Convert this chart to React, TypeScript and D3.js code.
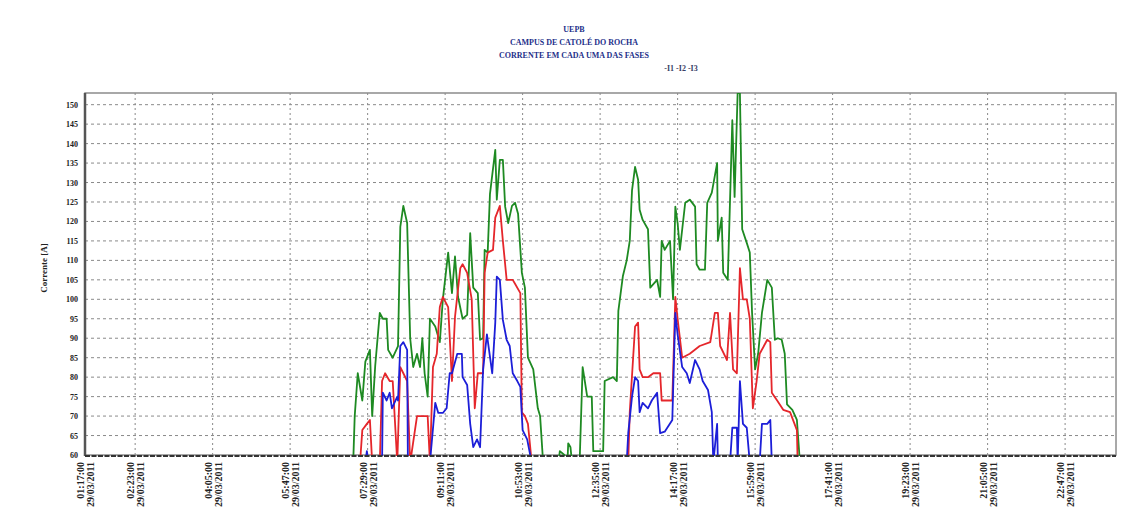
import React from "react";
import * as d3 from "d3";

// Current per phase, 29/03/2011. Time = minutes after midnight, value = amperes.
const DATE_LABEL = "29/03/2011";
const TITLE_LINES = ["UEPB", "CAMPUS DE CATOLÉ DO ROCHA", "CORRENTE EM CADA UMA DAS FASES"];
const LEGEND_TEXT = "-I1 -I2 -I3";
const Y_TITLE = "Corrente [A]";
const TIME_LABELS = [
  "01:17:00", "02:23:00", "04:05:00", "05:47:00", "07:29:00", "09:11:00", "10:53:00",
  "12:35:00", "14:17:00", "15:59:00", "17:41:00", "19:23:00", "21:05:00", "22:47:00",
];
const Y_TICKS = [60, 65, 70, 75, 80, 85, 90, 95, 100, 105, 110, 115, 120, 125, 130, 135, 140, 145, 150];
const X_DOMAIN = [77, 1434];
const Y_DOMAIN = [60, 153];

const GREEN: [number, number][] = [
  [430, 58], [432, 70], [436, 81], [442, 74], [446, 84], [452, 87], [455, 70], [459, 83], [465, 96.5],
  [469, 95], [474, 95], [476, 87], [482, 85], [489, 88], [492, 118.6], [496, 124], [501, 119.6], [505, 90],
  [509, 82.6], [514, 86], [518, 82.6], [521, 90], [524, 81], [528, 75], [531, 95], [538, 93], [544, 89],
  [548, 100], [555, 112], [560, 101.6], [564, 111], [568, 100.6], [574, 95], [580, 96], [584, 117], [588, 103],
  [594, 101.6], [597, 89.6], [601, 90], [603, 112.7], [607, 112], [610, 127], [617, 138.4], [619, 125.6],
  [623, 135.8], [627, 135.8], [630, 123.8], [634, 119.6], [639, 124], [643, 124.8], [647, 122], [652, 106.8],
  [656, 103], [660, 85], [667, 82], [673, 72], [676, 70], [680, 58], [700, 58], [702, 61], [708, 60],
  [712, 58], [713, 63], [716, 62], [718, 58], [728, 58], [732, 82.6], [738, 75], [744, 75], [746, 61],
  [759, 61], [761, 79], [772, 80], [777, 79], [779, 97], [785, 106], [790, 110], [794, 115], [797, 128],
  [801, 134], [805, 130.7], [807, 123], [811, 120.4], [818, 118], [821, 103], [830, 105], [834, 100.6],
  [836, 115], [840, 112.7], [847, 115], [851, 100], [854, 123.8], [857, 119.6], [860, 112.7], [867, 124.8],
  [873, 125.6], [880, 123.8], [882, 109], [886, 107.6], [893, 107.6], [896, 124.8], [902, 127.4], [909, 135],
  [910, 115], [915, 121], [917, 106.8], [923, 105], [929, 146], [932, 126.3], [936, 153], [939, 153],
  [942, 118], [948, 114.5], [952, 112], [955, 96.5], [959, 82], [963, 86], [968, 96.5], [975, 105],
  [981, 103], [985, 89.6], [989, 90], [994, 89.6], [998, 86], [1001, 73], [1008, 71.6], [1014, 69], [1018, 58],
];

const RED: [number, number][] = [
  [439, 58], [442, 66.4], [448, 68], [452, 69], [455, 58], [465, 58], [468, 79], [472, 81], [478, 79],
  [482, 79], [488, 58], [492, 82.6], [496, 81], [501, 79], [505, 58], [514, 70], [528, 70], [531, 58],
  [535, 82.6], [540, 86], [544, 98], [548, 100.6], [555, 98], [560, 79], [564, 95.5], [571, 108], [574, 109],
  [580, 106.8], [586, 100], [590, 72], [594, 81], [601, 81], [603, 106.8], [607, 112], [614, 112.7],
  [617, 121], [623, 124], [627, 115], [632, 105], [640, 105], [643, 104], [650, 101.6], [652, 71], [656, 70],
  [660, 68], [665, 58], [792, 58], [794, 71], [801, 93], [805, 94], [807, 82], [811, 80], [818, 80],
  [825, 81], [834, 81], [836, 74], [850, 74], [854, 100.6], [857, 95], [863, 85], [873, 86], [886, 88],
  [900, 89], [906, 96.5], [910, 96.5], [913, 88], [922, 84.4], [926, 96.5], [930, 82], [935, 81], [939, 108],
  [943, 100], [948, 100], [952, 95], [956, 72], [961, 79], [965, 86], [975, 89.6], [979, 89], [981, 76],
  [988, 74], [996, 71.6], [1005, 71], [1014, 66.4], [1015, 58],
];

const BLUE: [number, number][] = [
  [446, 58], [448, 61], [450, 58], [468, 58], [469, 76], [474, 74], [478, 76], [481, 72], [488, 75],
  [489, 74], [492, 88], [496, 89], [501, 87], [502, 58], [531, 58], [538, 73.4], [542, 70.8], [548, 70.8],
  [553, 72], [557, 81], [560, 81], [567, 86], [573, 86], [574, 80], [580, 78], [584, 68], [588, 62],
  [593, 64], [597, 62], [601, 82], [606, 91], [613, 81], [617, 94], [619, 105.8], [623, 105], [627, 94.7],
  [632, 89.6], [636, 88], [640, 81], [646, 79], [650, 77.5], [653, 66.4], [659, 64], [665, 58],
  [790, 58], [792, 65.6], [797, 75], [801, 80], [805, 79], [807, 71], [811, 73.4], [818, 72], [823, 74],
  [830, 76], [834, 65.6], [840, 66], [850, 69], [854, 96.5], [857, 91], [863, 82.6], [869, 81], [873, 78.5],
  [880, 84.4], [886, 82], [890, 79], [897, 76.7], [902, 71], [904, 58], [909, 68], [910, 58], [926, 58],
  [929, 67], [935, 67], [936, 58], [939, 79], [943, 68], [948, 67], [952, 58], [965, 58], [968, 68],
  [975, 68], [979, 69], [981, 58],
];

const SERIES = [
  { name: "green", data: GREEN, color: "#1e8a22" },
  { name: "red", data: RED, color: "#e5262b" },
  { name: "blue", data: BLUE, color: "#1c1ed8" },
];

const toMin = (s: string) => {
  const [h, m] = s.split(":").map(Number);
  return h * 60 + m;
};

export default function App() {
  const W = 1126;
  const H = 510;
  const left = 85, right = 1116, top = 93, bottom = 455;
  const x = d3.scaleLinear().domain(X_DOMAIN).range([left, right]);
  const y = d3.scaleLinear().domain(Y_DOMAIN).range([bottom, top]);
  const line = d3
    .line<[number, number]>()
    .x((d) => x(d[0]))
    .y((d) => y(d[1]));
  const font = "'Liberation Serif', 'Times New Roman', serif";
  const titleColor = "#23308a";

  return (
    <svg
      width={W}
      height={H}
      style={{ position: "absolute", left: 0, top: 0, background: "#fff" }}
      fontFamily={font}
    >
      <defs>
        <clipPath id="plot">
          <rect x={left} y={top} width={right - left} height={bottom - top + 1} />
        </clipPath>
      </defs>
      <rect x={0} y={0} width={W} height={H} fill="#fff" />

      {/* title */}
      {TITLE_LINES.map((t, i) => (
        <text
          key={t}
          x={574}
          y={32 + i * 13}
          textAnchor="middle"
          fontSize={8}
          fontWeight="bold"
          fill={titleColor}
        >
          {t}
        </text>
      ))}
      <text x={681} y={71} textAnchor="middle" fontSize={8} fontWeight="bold" fill="#3a3f66">
        {LEGEND_TEXT}
      </text>

      {/* horizontal grid */}
      {Y_TICKS.filter((v) => v > Y_DOMAIN[0]).map((v) => (
        <line
          key={"h" + v}
          x1={left}
          x2={right}
          y1={y(v)}
          y2={y(v)}
          stroke="#8a8a8a"
          strokeWidth={1}
          strokeDasharray="3,3"
        />
      ))}
      {/* vertical grid */}
      {TIME_LABELS.slice(1).map((t) => (
        <line
          key={"v" + t}
          x1={x(toMin(t))}
          x2={x(toMin(t))}
          y1={top}
          y2={bottom}
          stroke="#8a8a8a"
          strokeWidth={1}
          strokeDasharray="2,3"
        />
      ))}

      {/* border */}
      <rect x={left} y={top} width={right - left} height={bottom - top} fill="none" stroke="#8c8c8c" strokeWidth={1.5} />

      {/* series */}
      <g clipPath="url(#plot)">
        {SERIES.map((s) => (
          <path key={s.name} d={line(s.data) || ""} fill="none" stroke={s.color} strokeWidth={1.8} strokeLinejoin="round" />
        ))}
      </g>

      {/* axes */}
      <line x1={left} x2={left} y1={top} y2={bottom + 1} stroke="#555" strokeWidth={2.5} />
      <line x1={left} x2={right} y1={bottom + 1} y2={bottom + 1} stroke="#333" strokeWidth={2} strokeDasharray="5,1.5" />

      {/* y labels */}
      {Y_TICKS.map((v) => (
        <text key={"yl" + v} x={78} y={y(v) + 3} textAnchor="end" fontSize={8} fontWeight="bold" fill="#222">
          {v}
        </text>
      ))}
      <text
        transform={`translate(47, 268) rotate(-90)`}
        textAnchor="middle"
        fontSize={9}
        fontWeight="bold"
        fill="#222"
      >
        {Y_TITLE}
      </text>

      {/* x labels */}
      {TIME_LABELS.map((t) => {
        const px = x(toMin(t));
        return (
          <g key={"xl" + t}>
            <text
              transform={`translate(${px - 1}, 462) rotate(-90)`}
              textAnchor="end"
              fontSize={10}
              fontWeight="bold"
              fill="#222"
            >
              {t}
            </text>
            <text
              transform={`translate(${px + 9}, 462) rotate(-90)`}
              textAnchor="end"
              fontSize={10}
              fontWeight="bold"
              fill="#222"
            >
              {DATE_LABEL}
            </text>
          </g>
        );
      })}
    </svg>
  );
}
